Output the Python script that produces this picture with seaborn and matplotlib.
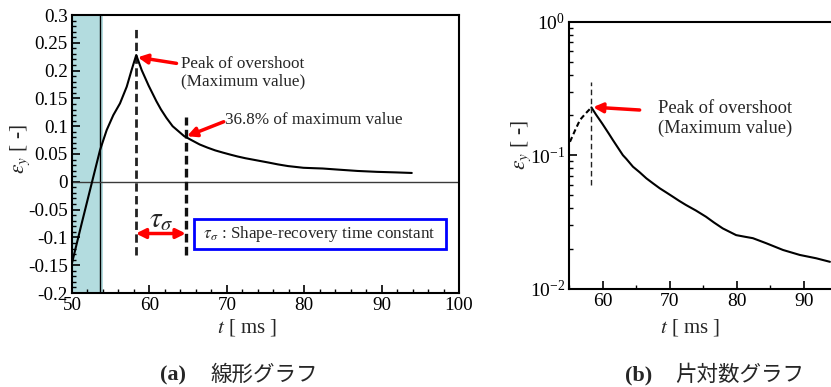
import matplotlib
matplotlib.use("Agg")
import matplotlib.pyplot as plt
import numpy as np
import pandas as pd
import seaborn as sns
from matplotlib.ticker import MultipleLocator, FuncFormatter, NullFormatter, LogLocator
from matplotlib.patches import Rectangle

# ---------------- data ----------------
t_rise = [50.0, 51.25, 52.54, 53.62, 54.48, 55.34, 56.2, 57.07, 57.7, 58.3]
eps_rise = [-0.146, -0.075, -0.003, 0.057, 0.093, 0.120, 0.141, 0.171, 0.201, 0.228]

t_decay = [58.3, 59.0, 59.9, 60.9, 61.5, 62.2, 63.0, 63.5, 64.5, 65.5, 66.5, 67.5, 68.5,
           69.5, 70.45, 71.4, 72.4, 73.9, 75.4, 76.6, 77.9, 79.9, 81.2, 82.4, 84.4,
           86.9, 89.4, 91.85, 93.9]
eps_decay = [0.228, 0.201, 0.173, 0.145, 0.130, 0.115, 0.100, 0.094, 0.082, 0.0745, 0.0671,
             0.0615, 0.0565, 0.0525, 0.0489, 0.0455, 0.0424, 0.0385, 0.0346, 0.0313, 0.0283,
             0.0252, 0.0245, 0.0239, 0.0219, 0.0195, 0.0179, 0.0169, 0.0159]

t_rise_log = [55.1, 55.9, 56.6, 57.5, 58.3]
eps_rise_log = [0.126, 0.155, 0.184, 0.207, 0.228]

t_peak = 58.25
t_tau = 64.7
band_end = 54.0
trigger_t = 53.65

xticks_lin = [50, 60, 70, 80, 90, 100]
yticks_lin = [-0.2, -0.15, -0.1, -0.05, 0, 0.05, 0.1, 0.15, 0.2, 0.25, 0.3]
xticks_log = [60, 70, 80, 90]

# ---------------- style ----------------
sns.set_theme(style="ticks")
plt.rcParams["font.family"] = ["Liberation Serif", "Noto Sans CJK JP", "DejaVu Sans"]
plt.rcParams["mathtext.fontset"] = "stix"
plt.rcParams["axes.unicode_minus"] = False
plt.rcParams["axes.linewidth"] = 1.5
plt.rcParams["axes.edgecolor"] = "black"
for a in ("xtick", "ytick"):
    plt.rcParams[f"{a}.direction"] = "in"
    plt.rcParams[f"{a}.major.size"] = 6
    plt.rcParams[f"{a}.minor.size"] = 3
    plt.rcParams[f"{a}.major.width"] = 1.2
    plt.rcParams[f"{a}.minor.width"] = 1.0
    plt.rcParams[f"{a}.color"] = "black"
    plt.rcParams[f"{a}.labelcolor"] = "black"

W, H = 831, 387
fig = plt.figure(figsize=(W / 100, H / 100), dpi=100)
fig.patch.set_facecolor("white")


def px_axes(l, t, r, b):
    return fig.add_axes([l / W, 1 - b / H, (r - l) / W, (b - t) / H])


ax1 = px_axes(72, 15, 459, 293)
ax2 = px_axes(569.3, 21.7, 569.3 + 268, 288.7)

# ---------------- (a) linear ----------------
df_lin = pd.DataFrame({"t": t_rise + t_decay[1:], "eps": eps_rise + eps_decay[1:]})
ax1.axvspan(50, band_end, color="#b3dcdf", lw=0, zorder=0)
ax1.axvline(trigger_t, color="black", lw=1.0, zorder=1)
ax1.axhline(0, color="#3a3a3a", lw=1.0, zorder=1)
sns.lineplot(data=df_lin, x="t", y="eps", ax=ax1, color="black", lw=1.5,
             sort=False, estimator=None, zorder=3)

ax1.plot([t_peak, t_peak], [-0.132, 0.279], color="#222222", lw=2.0, dashes=(3, 1.6), zorder=2)
ax1.plot([t_tau, t_tau], [-0.132, 0.117], color="#111111", lw=2.4, dashes=(2.6, 1.3), zorder=2)

ax1.set_xlim(50, 100)
ax1.set_ylim(-0.2, 0.3)
ax1.set_xticks(xticks_lin)
ax1.set_yticks(yticks_lin)
ax1.xaxis.set_minor_locator(MultipleLocator(2))
ax1.yaxis.set_minor_locator(MultipleLocator(0.01))
ax1.yaxis.set_major_formatter(FuncFormatter(lambda v, p: "%g" % round(v, 3)))
ax1.tick_params(labelsize=13.8, pad=3)

ax1.set_xlabel(r"$t$ [ ms ]", fontsize=15)
ax1.xaxis.label.set_va("center")
ax1.xaxis.set_label_coords((247 - 72) / 387, (293 - 327) / 278)
ax1.set_ylabel(r"$\varepsilon_y$ [ -]", fontsize=15.5)
ax1.yaxis.label.set_va("center")
ax1.yaxis.set_label_coords((20 - 72) / 387, (293 - 149) / 278)

red_arrow = dict(arrowstyle="-|>", color="red", lw=2.5, mutation_scale=14,
                 shrinkA=0, shrinkB=0)
ax1.text(72.1, 0.196, "Peak of overshoot\n(Maximum value)", fontsize=12.3,
         ha="center", va="center", multialignment="center", linespacing=1.15)
ax1.annotate("", xy=(58.5, 0.224), xytext=(63.5, 0.213), arrowprops=red_arrow)
ax1.text(69.8, 0.111, "36.8% of maximum value", fontsize=12.3, ha="left", va="center")
ax1.annotate("", xy=(64.85, 0.082), xytext=(69.6, 0.108), arrowprops=red_arrow)

ax1.annotate("", xy=(t_peak, -0.093), xytext=(t_tau, -0.093),
             arrowprops=dict(arrowstyle="<|-|>", color="red", lw=2.5, mutation_scale=14,
                             shrinkA=0, shrinkB=0))
ax1.text(61.6, -0.069, r"$\tau_\sigma$", fontsize=21, ha="center", va="center")

ax1.add_patch(Rectangle((65.7, -0.12), 32.6, 0.053, fill=False, ec="#0000ff", lw=2.0,
                        zorder=4, clip_on=False))
ax1.text(66.9, -0.094, r"$\tau_\sigma$ : Shape-recovery time constant", fontsize=12.3,
         ha="left", va="center", zorder=5)

# ---------------- (b) semi-log ----------------
sns.lineplot(x=t_rise_log, y=eps_rise_log, ax=ax2, color="black", lw=1.5,
             sort=False, estimator=None, linestyle=(0, (2.5, 1.5)))
sns.lineplot(x=t_decay, y=eps_decay, ax=ax2, color="black", lw=1.5,
             sort=False, estimator=None)
ax2.plot([58.3, 58.3], [0.06, 0.355], color="#222222", lw=1.0, dashes=(4, 2.5))

ax2.set_yscale("log")
ax2.set_xlim(55, 95)
ax2.set_ylim(0.01, 1)
ax2.set_xticks(xticks_log)
ax2.xaxis.set_minor_locator(MultipleLocator(5))
ax2.yaxis.set_major_locator(LogLocator(base=10))
ax2.yaxis.set_minor_locator(LogLocator(base=10, subs=np.arange(2, 10)))
ax2.yaxis.set_minor_formatter(NullFormatter())
ax2.tick_params(labelsize=14, pad=3)

ax2.set_xlabel(r"$t$ [ ms ]", fontsize=15)
ax2.xaxis.label.set_va("center")
ax2.xaxis.set_label_coords((690 - 569.3) / 268, (288.7 - 328) / 267)
ax2.set_ylabel(r"$\varepsilon_y$ [ -]", fontsize=15.5)
ax2.yaxis.label.set_va("center")
ax2.yaxis.set_label_coords((521 - 569.3) / 268, (288.7 - 145) / 267)

ax2.text(78.2, 0.188, "Peak of overshoot\n(Maximum value)", fontsize=13.3,
         ha="center", va="center", multialignment="center", linespacing=1.15)
ax2.annotate("", xy=(58.55, 0.229), xytext=(65.5, 0.218), arrowprops=red_arrow)

# ---------------- captions ----------------
fig.text(160 / W, 1 - 375 / H, "(a)", fontsize=16, fontweight="bold",
         family=["Liberation Serif"], ha="left", va="center")
fig.text(210 / W, 1 - 375 / H, "線形グラフ", fontsize=15.5,
         family=["Noto Sans CJK JP"], ha="left", va="center")
fig.text(625 / W, 1 - 375 / H, "(b)", fontsize=16, fontweight="bold",
         family=["Liberation Serif"], ha="left", va="center")
fig.text(675 / W, 1 - 375 / H, "片対数グラフ", fontsize=15.5,
         family=["Noto Sans CJK JP"], ha="left", va="center")

fig.savefig("out.png", dpi=100, facecolor="white")
